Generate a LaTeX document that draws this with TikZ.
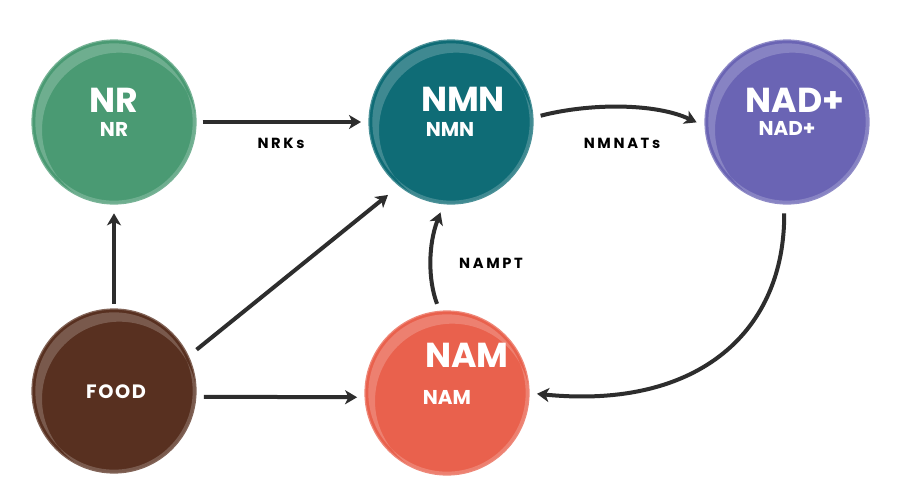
\documentclass[tikz,border=0pt]{standalone}
\usepackage{fontspec}
\setmainfont{Poppins}
\newfontfamily\lblfont[LetterSpace=18]{Poppins}
\newfontfamily\foodfont[LetterSpace=8]{Poppins}
\usetikzlibrary{arrows.meta}

\definecolor{nrgreen}{RGB}{74,154,115}
\definecolor{nmnteal}{RGB}{15,108,118}
\definecolor{nadpurple}{RGB}{106,100,180}
\definecolor{foodbrown}{RGB}{88,48,32}
\definecolor{namcoral}{RGB}{233,97,77}
\definecolor{flowgray}{RGB}{45,45,45}

\tikzset{every picture/.style={line width=0.75pt}}
\tikzset{
  bubble/.style={circle, minimum size=123pt, inner sep=0pt, outer sep=0pt,
    fill=#1, draw=#1!75!white, line width=0.9pt,
    path picture={\fill[white, opacity=0.2, even odd rule]
      (path picture bounding box.center) circle (59pt)
      ([shift={(4pt,-6pt)}]path picture bounding box.center) circle (58pt);}},
  flow/.style={draw=flowgray, line width=3pt, -{Stealth[length=9pt,width=10.5pt,inset=2.5pt]}},
  bigtxt/.style={text=white, font=\fontsize{26}{28}\selectfont\bfseries, inner sep=0pt},
  subtxt/.style={text=white, font=\fontsize{15}{17}\selectfont\bfseries, inner sep=0pt},
  foodtxt/.style={text=white, font=\foodfont\fontsize{14.5}{17}\selectfont\bfseries, inner sep=0pt},
  edgelbl/.style={text=black, font=\lblfont\fontsize{11}{13}\selectfont\bfseries, inner sep=0pt}
}

\begin{document}
\begin{tikzpicture}[x=0.75pt,y=0.75pt,yscale=-1,xscale=1]
%set diagram size 900 x 500
\fill[white] (0,0) rectangle (900,500);
\useasboundingbox (0,0) rectangle (900,500);

%Circles
\node[bubble=nrgreen] (nr) at (114,122) {};
\node[bubble=nmnteal] (nmn) at (451,122) {};
\node[bubble=nadpurple] (nad) at (787,122) {};
\node[bubble=foodbrown] (food) at (114,391) {};
\node[bubble=namcoral] (nam) at (447,393) {};

% Text Nodes in circles
\node[bigtxt] (nr-big) at (114,100) {NR};
\node[subtxt] (nr-sub) at (114,129.5) {NR};
\node[bigtxt] (nmn-big) at (463,99) {NMN};
\node[subtxt] (nmn-sub) at (450,129) {NMN};
\node[bigtxt] (nad-big) at (795,100) {NAD+};
\node[subtxt] (nad-sub) at (787,128.5) {NAD+};
\node[foodtxt] (food-txt) at (116,392) {FOOD};
\node[bigtxt] (nam-big) at (467,355) {NAM};
\node[subtxt] (nam-sub) at (447,397) {NAM};

% Text Nodes on arrows
\node[edgelbl] (nrks) at (281,143) {NRKs};
\node[edgelbl] (nmnats) at (622,143) {NMNATs};
\node[edgelbl] (nampt) at (491,263) {NAMPT};

%Straight Lines
\draw[flow, shorten <=5pt, shorten >=6pt] (nr) -- (nmn);
\draw[flow, shorten <=4pt, shorten >=7pt] (food) -- (nr);
\draw[flow, shorten <=8pt, shorten >=11pt] (food.25) -- (nmn.231);
\draw[flow, shorten <=6pt, shorten >=6pt] (food.-4) -- (nam.183);
%Curves
\draw[flow, shorten <=6pt, shorten >=7pt] (nmn.3) .. controls (590,103) and (655,103) .. (nad.183);
\draw[flow, shorten <=7pt, shorten >=6pt] (nad.268) .. controls (785,330) and (700,410) .. (nam.0);
\draw[flow, shorten <=6pt, shorten >=7pt] (nam.95) .. controls (428,280) and (428,245) .. (nmn.265);

\end{tikzpicture}
\end{document}
